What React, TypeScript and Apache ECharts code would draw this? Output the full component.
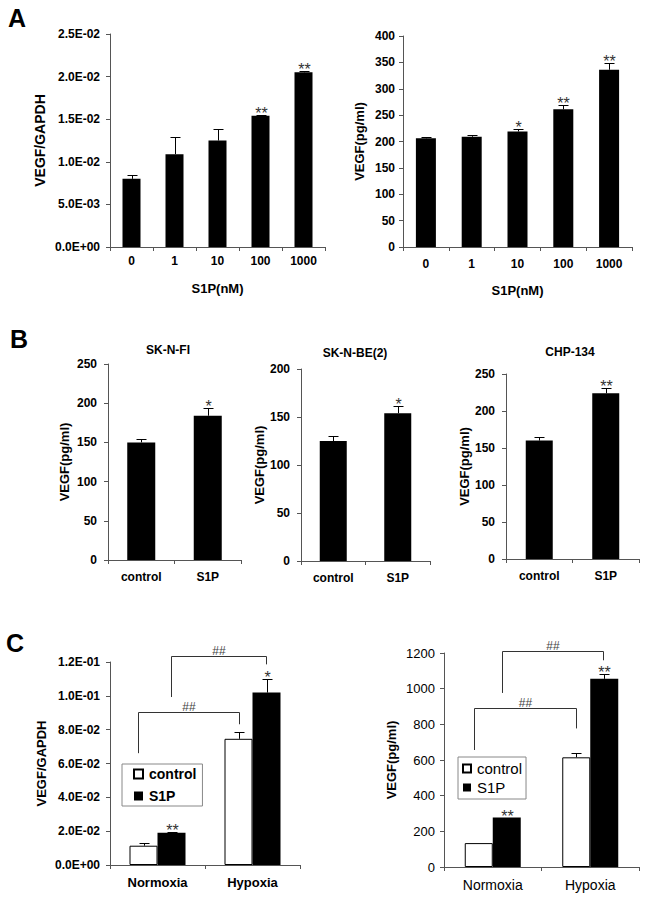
import React, { useEffect, useRef } from 'react';
import * as echarts from 'echarts';

// ---------- data ----------
const doseCats = ['0', '1', '10', '100', '1000'];
const a1Mean = [0.008, 0.0109, 0.0125, 0.0154, 0.0205];
const a1Err = [0.0004, 0.002, 0.0014, 0.0001, 0.0002];
const a1Stars = ['', '', '', '**', '**'];

const a2Mean = [206, 209, 219, 261, 336];
const a2Err = [2, 3, 4, 9, 13];
const a2Stars = ['', '', '*', '**', '**'];

const bCats = ['control', 'S1P'];
const b1Mean = [150, 184];
const b1Err = [4.5, 9.5];
const b1Stars = ['', '*'];
const b2Mean = [125, 154];
const b2Err = [5, 7];
const b2Stars = ['', '*'];
const b3Mean = [160, 224];
const b3Err = [4.5, 7.5];
const b3Stars = ['', '**'];
const bTitles = ['SK-N-FI', 'SK-N-BE(2)', 'CHP-134'];

const cCats = ['Normoxia', 'Hypoxia'];
const c1Control = [0.0114, 0.0746];
const c1ControlErr = [0.0014, 0.0041];
const c1S1P = [0.0191, 0.1019];
const c1S1PErr = [0.0006, 0.0083];
const c1S1PStars = ['**', '*'];

const c2Control = [134, 615];
const c2ControlErr = [0, 26];
const c2S1P = [277, 1055];
const c2S1PErr = [0, 30];
const c2S1PStars = ['**', '**'];

// brackets: [leftCat, leftFrac, rightCat, rightFrac, topValue, leftBottom, rightBottom]
const c1Brackets = [
  [0, -0.21, 1, -0.147, 0.0905, 0.0661, 0.0832],
  [0, 0.14, 1, 0.147, 0.1235, 0.0993, 0.1186],
];
const c2Brackets = [
  [0, -0.194, 1, -0.151, 889, 656, 777],
  [0, 0.097, 1, 0.133, 1211, 976, 1159],
];
const bracketLabel = '##';

// ---------- styles ----------
const ARIAL = "'Liberation Sans', Arial, Helvetica, sans-serif";
const NARROW = "'Liberation Sans Narrow', 'Arial Narrow', 'Liberation Sans', sans-serif";
const AXIS_COLOR = '#555';

const sci = (v: number) => {
  const [m, e] = v.toExponential(1).split('e');
  const n = parseInt(e, 10);
  return m + 'E' + (n < 0 ? '-' : '+') + String(Math.abs(n)).padStart(2, '0');
};
const plain = (v: number) => String(v);

type LabelStyle = { fontFamily: string; fontSize: number; fontWeight: string };

function yAx(gi: number, max: number, interval: number, name: string, nameGap: number,
  lab: LabelStyle, margin: number, nameStyle: LabelStyle, formatter: any = plain) {
  return {
    type: 'value', gridIndex: gi, min: 0, max, interval,
    name, nameLocation: 'middle', nameGap, nameRotate: 90,
    nameTextStyle: { ...nameStyle, color: '#000' },
    axisLine: { show: true, lineStyle: { color: AXIS_COLOR, width: 1 } },
    axisTick: { show: true, length: 4, lineStyle: { color: AXIS_COLOR } },
    splitLine: { show: false },
    axisLabel: { ...lab, color: '#000', margin, formatter },
  };
}

function xAx(gi: number, data: string[], lab: LabelStyle, margin: number, name = '', nameGap = 0, nameStyle?: LabelStyle) {
  return {
    type: 'category', gridIndex: gi, data, boundaryGap: true,
    name, nameLocation: 'middle', nameGap,
    nameTextStyle: nameStyle ? { ...nameStyle, color: '#000' } : undefined,
    axisLine: { show: true, lineStyle: { color: AXIS_COLOR, width: 1 } },
    axisTick: { show: true, length: 4, lineStyle: { color: AXIS_COLOR } },
    splitLine: { show: false },
    axisLabel: { ...lab, color: '#000', margin, interval: 0 },
  };
}

function errSeries(gi: number, means: number[], errs: number[], stars: string[], offsetPx: number, capW: number) {
  return {
    type: 'custom', xAxisIndex: gi, yAxisIndex: gi, z: 5, silent: true,
    data: means.map((m, i) => [i, m, errs[i]]),
    renderItem: (params: any, api: any) => {
      const i = api.value(0);
      const m = api.value(1);
      const e = api.value(2);
      const base = api.coord([i, m]);
      const top = api.coord([i, m + e]);
      const x = Math.round(base[0] + offsetPx) + 0.5;
      const ty = Math.round(top[1]) + 0.5;
      const children: any[] = [];
      if (e > 0) {
        children.push({ type: 'line', shape: { x1: x, y1: base[1], x2: x, y2: ty }, style: { stroke: '#000', lineWidth: 1 } });
        children.push({ type: 'line', shape: { x1: x - capW / 2, y1: ty, x2: x + capW / 2, y2: ty }, style: { stroke: '#000', lineWidth: 1 } });
      }
      const s = stars[params.dataIndex];
      if (s) {
        children.push({
          type: 'text', x: x, y: ty - 2,
          style: { text: s, fill: '#333', fontSize: 16, fontFamily: ARIAL, align: 'center', verticalAlign: 'middle' },
        });
      }
      return { type: 'group', children };
    },
  };
}

function bracketSeries(gi: number, brackets: number[][]) {
  return {
    type: 'custom', xAxisIndex: gi, yAxisIndex: gi, z: 6, silent: true, clip: false,
    data: brackets.map((b) => [b[0], b[4]]),
    renderItem: (params: any, api: any) => {
      const b = brackets[params.dataIndex];
      const band = api.size([1, 0])[0];
      const xl = Math.round(api.coord([b[0], 0])[0] + b[1] * band) + 0.5;
      const xr = Math.round(api.coord([b[2], 0])[0] + b[3] * band) + 0.5;
      const yt = Math.round(api.coord([0, b[4]])[1]) + 0.5;
      const yl = api.coord([0, b[5]])[1];
      const yr = api.coord([0, b[6]])[1];
      const st = { stroke: '#333', lineWidth: 1, fill: 'none' };
      return {
        type: 'group',
        children: [
          { type: 'polyline', shape: { points: [[xl, yl], [xl, yt], [xr, yt], [xr, yr]] }, style: st },
          {
            type: 'text', x: (xl + xr) / 2, y: yt - 6,
            style: { text: bracketLabel, fill: '#444', fontSize: 12, fontFamily: ARIAL, align: 'center', verticalAlign: 'middle' },
          },
        ],
      };
    },
  };
}

function barSeries(gi: number, name: string, data: number[], width: number, fill: string, border = false) {
  return {
    type: 'bar', name, xAxisIndex: gi, yAxisIndex: gi, data, barWidth: width, barGap: '0%',
    itemStyle: { color: fill, borderColor: '#000', borderWidth: border ? 1 : 0 },
    silent: true,
  };
}

const boldA: LabelStyle = { fontFamily: ARIAL, fontSize: 12, fontWeight: 'bold' };
const boldName13: LabelStyle = { fontFamily: ARIAL, fontSize: 13, fontWeight: 'bold' };
const narrowB: LabelStyle = { fontFamily: NARROW, fontSize: 12, fontWeight: 'bold' };
const regC: LabelStyle = { fontFamily: ARIAL, fontSize: 13, fontWeight: 'normal' };

export default function App() {
  const ref = useRef<HTMLDivElement>(null);
  useEffect(() => {
    document.body.style.margin = '0';
    const chart = echarts.init(ref.current!, undefined, { renderer: 'svg' });
    const grids = [
      { left: 110, top: 34, width: 215, height: 213 },
      { left: 403, top: 36, width: 229, height: 211 },
      { left: 108, top: 364, width: 133, height: 196 },
      { left: 301, top: 369, width: 129, height: 192 },
      { left: 506, top: 374, width: 133, height: 185 },
      { left: 110, top: 662, width: 190, height: 203 },
      { left: 444, top: 653, width: 195, height: 214 },
    ].map((g) => ({ ...g, outerBoundsMode: 'none', containLabel: false }));

    const option: any = {
      animation: false,
      backgroundColor: '#fff',
      grid: grids,
      xAxis: [
        xAx(0, doseCats, boldA, 8, 'S1P(nM)', 35, boldName13),
        xAx(1, doseCats, boldA, 11, 'S1P(nM)', 37, boldName13),
        xAx(2, bCats, narrowB, 11),
        xAx(3, bCats, narrowB, 11),
        xAx(4, bCats, narrowB, 11),
        xAx(5, cCats, boldName13, 11),
        xAx(6, cCats, { fontFamily: ARIAL, fontSize: 14, fontWeight: 'normal' }, 11),
      ],
      yAxis: [
        yAx(0, 0.025, 0.005, 'VEGF/GAPDH', 63, boldA, 10, { fontFamily: ARIAL, fontSize: 14, fontWeight: 'bold' }, sci),
        yAx(1, 400, 50, 'VEGF(pg/ml)', 37, boldA, 8, boldName13),
        yAx(2, 250, 50, 'VEGF(pg/ml)', 37, narrowB, 11, boldName13),
        yAx(3, 200, 50, 'VEGF(pg/ml)', 33, narrowB, 11, boldName13),
        yAx(4, 250, 50, 'VEGF(pg/ml)', 35, narrowB, 11, boldName13),
        yAx(5, 0.12, 0.02, 'VEGF/GAPDH', 62, boldA, 10, boldName13, sci),
        yAx(6, 1200, 200, 'VEGF(pg/ml)', 46, regC, 9, boldName13),
      ],
      legend: [
        {
          left: 122, top: 764, orient: 'vertical', data: ['control', 'S1P'], icon: 'rect',
          itemWidth: 9, itemHeight: 9, itemGap: 8, selectedMode: false,
          borderColor: '#888', borderWidth: 1, padding: [3, 6, 3, 11],
          textStyle: { fontFamily: ARIAL, fontSize: 14, fontWeight: 'bold', color: '#000', padding: [0, 0, 0, 1] },
        },
        {
          left: 458, top: 757, orient: 'vertical', data: ['control', 'S1P'], icon: 'rect',
          itemWidth: 8, itemHeight: 8, itemGap: 4, selectedMode: false,
          borderColor: '#888', borderWidth: 1, padding: [4, 4, 4, 4],
          textStyle: { fontFamily: ARIAL, fontSize: 15, fontWeight: 'normal', color: '#000', padding: [0, 0, 0, 1] },
        },
      ],
      graphic: [
        { type: 'text', x: 17, y: 18, style: { text: 'A', fontFamily: ARIAL, fontSize: 25, fontWeight: 'bold', fill: '#000', align: 'center', verticalAlign: 'middle' } },
        { type: 'text', x: 19, y: 339, style: { text: 'B', fontFamily: ARIAL, fontSize: 25, fontWeight: 'bold', fill: '#000', align: 'center', verticalAlign: 'middle' } },
        { type: 'text', x: 15, y: 643, style: { text: 'C', fontFamily: ARIAL, fontSize: 25, fontWeight: 'bold', fill: '#000', align: 'center', verticalAlign: 'middle' } },
        { type: 'text', x: 168, y: 350, style: { text: bTitles[0], fontFamily: NARROW, fontSize: 12, fontWeight: 'bold', fill: '#000', align: 'center', verticalAlign: 'middle' } },
        { type: 'text', x: 355, y: 353, style: { text: bTitles[1], fontFamily: NARROW, fontSize: 12, fontWeight: 'bold', fill: '#000', align: 'center', verticalAlign: 'middle' } },
        { type: 'text', x: 570, y: 352, style: { text: bTitles[2], fontFamily: NARROW, fontSize: 12, fontWeight: 'bold', fill: '#000', align: 'center', verticalAlign: 'middle' } },
      ],
      series: [
        barSeries(0, 'a1', a1Mean, 18, '#000'),
        errSeries(0, a1Mean, a1Err, a1Stars, 0, 10),
        barSeries(1, 'a2', a2Mean, 20, '#000'),
        errSeries(1, a2Mean, a2Err, a2Stars, 0, 10),
        barSeries(2, 'b1', b1Mean, 28, '#000'),
        errSeries(2, b1Mean, b1Err, b1Stars, 0, 10),
        barSeries(3, 'b2', b2Mean, 27, '#000'),
        errSeries(3, b2Mean, b2Err, b2Stars, 0, 10),
        barSeries(4, 'b3', b3Mean, 27, '#000'),
        errSeries(4, b3Mean, b3Err, b3Stars, 0, 10),
        barSeries(5, 'control', c1Control, 28, '#fff', true),
        barSeries(5, 'S1P', c1S1P, 28, '#000'),
        errSeries(5, c1Control, c1ControlErr, ['', ''], -14, 10),
        errSeries(5, c1S1P, c1S1PErr, c1S1PStars, 14, 10),
        bracketSeries(5, c1Brackets),
        barSeries(6, 'control', c2Control, 28, '#fff', true),
        barSeries(6, 'S1P', c2S1P, 28, '#000'),
        errSeries(6, c2Control, c2ControlErr, ['', ''], -14, 10),
        errSeries(6, c2S1P, c2S1PErr, c2S1PStars, 14, 10),
        bracketSeries(6, c2Brackets),
      ],
    };
    chart.setOption(option);
    return () => chart.dispose();
  }, []);
  return <div ref={ref} style={{ width: 649, height: 901 }} />;
}
